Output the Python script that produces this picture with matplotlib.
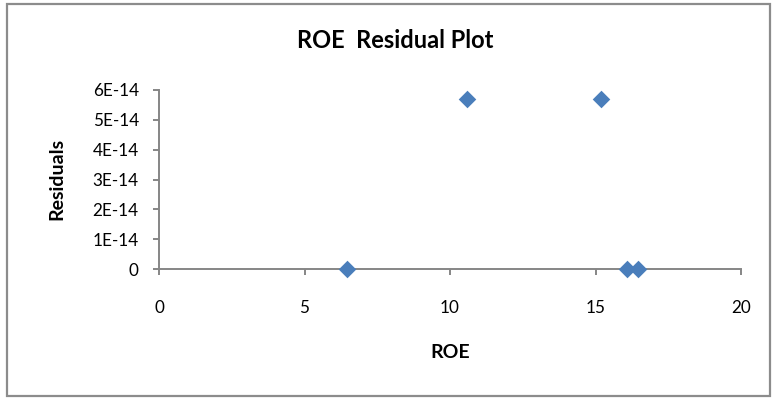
import matplotlib
matplotlib.use("Agg")
import matplotlib.pyplot as plt
from matplotlib.patches import Rectangle
from matplotlib.ticker import FixedLocator, FixedFormatter

# Residual plot data
roe = [6.45, 10.57, 15.2, 16.08, 16.46]
residuals = [0.0, 5.684e-14, 5.684e-14, 0.0, 0.0]

x_ticks = [0, 5, 10, 15, 20]
y_ticks = [0, 1e-14, 2e-14, 3e-14, 4e-14, 5e-14, 6e-14]
y_tick_labels = ["0", "1E-14", "2E-14", "3E-14", "4E-14", "5E-14", "6E-14"]

plt.rcParams["font.family"] = ["Lato", "DejaVu Sans"]

W, H = 772, 398
fig = plt.figure(figsize=(W / 100, H / 100), dpi=100)
fig.patch.set_facecolor("white")

# outer chart frame
fig.patches.append(Rectangle((7 / W, 1 - 396 / H), (770 - 7) / W, (396 - 4) / H,
                             transform=fig.transFigure, fill=False,
                             edgecolor="#8c8c8c", linewidth=1.6))

ax = fig.add_axes([159 / W, 1 - 269 / H, (741 - 159) / W, (269 - 90) / H])
axis_grey = "#868686"

ax.scatter(roe, residuals, marker="D", s=80, color="#4A7EBB",
           linewidths=0, zorder=3, clip_on=False)

ax.set_xlim(0, 20)
ax.set_ylim(0, 6e-14)
ax.xaxis.set_major_locator(FixedLocator(x_ticks))
ax.yaxis.set_major_locator(FixedLocator(y_ticks))
ax.yaxis.set_major_formatter(FixedFormatter(y_tick_labels))

for side in ("top", "right"):
    ax.spines[side].set_visible(False)
for side in ("left", "bottom"):
    ax.spines[side].set_color(axis_grey)
    ax.spines[side].set_linewidth(1.4)

ax.tick_params(axis="both", colors=axis_grey, length=4.5, width=1.4,
               labelcolor="black", labelsize=12.3, direction="out")
ax.tick_params(axis="x", pad=17.5)
ax.tick_params(axis="y", pad=10)

ax.set_xlabel("ROE", fontsize=14, fontweight="bold", va="center")
ax.xaxis.set_label_coords(450 / W, 1 - 352 / H, transform=fig.transFigure)
ax.set_ylabel("Residuals", fontsize=14, fontweight="bold", va="center")
ax.yaxis.set_label_coords(57 / W, 1 - 179 / H, transform=fig.transFigure)

fig.text(395 / W, 1 - 41 / H, "ROE  Residual Plot", ha="center", va="center",
         fontsize=17, fontweight="bold")

fig.savefig("out.png", dpi=100, facecolor="white")
